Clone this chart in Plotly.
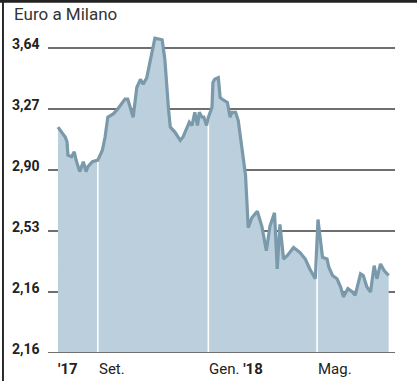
import numpy as np
import pandas as pd
import plotly.graph_objects as go

# Euro price in Milan, July 2017 - July 2018
date = [
    "2017-07-19", "2017-07-27", "2017-07-29", "2017-07-30", "2017-08-03", "2017-08-06",
    "2017-08-08", "2017-08-12", "2017-08-16", "2017-08-19", "2017-08-21", "2017-08-26",
    "2017-09-01", "2017-09-06", "2017-09-09", "2017-09-12", "2017-09-18", "2017-09-23",
    "2017-10-01", "2017-10-04", "2017-10-10", "2017-10-14", "2017-10-18", "2017-10-21",
    "2017-10-25", "2017-10-31", "2017-11-03", "2017-11-11", "2017-11-14", "2017-11-18",
    "2017-11-20", "2017-11-25", "2017-12-01", "2017-12-04", "2017-12-09", "2017-12-11",
    "2017-12-14", "2017-12-17", "2017-12-20", "2017-12-22", "2017-12-25", "2017-12-27",
    "2017-12-30", "2018-01-01", "2018-01-05", "2018-01-06", "2018-01-08", "2018-01-12",
    "2018-01-14", "2018-01-16", "2018-01-22", "2018-01-25", "2018-01-27", "2018-01-31",
    "2018-02-03", "2018-02-07", "2018-02-11", "2018-02-14", "2018-02-18", "2018-02-24",
    "2018-03-01", "2018-03-06", "2018-03-10", "2018-03-15", "2018-03-18", "2018-03-21",
    "2018-03-25", "2018-03-29", "2018-04-05", "2018-04-12", "2018-04-18", "2018-04-23",
    "2018-04-29", "2018-05-02", "2018-05-07", "2018-05-12", "2018-05-14", "2018-05-18",
    "2018-05-23", "2018-05-27", "2018-05-30", "2018-06-04", "2018-06-09", "2018-06-12",
    "2018-06-18", "2018-06-21", "2018-06-25", "2018-06-29", "2018-07-03", "2018-07-06",
    "2018-07-10", "2018-07-14", "2018-07-19",
]
prezzo = [
    3.16, 3.10, 3.07, 2.99, 2.98, 3.01,
    2.96, 2.89, 2.95, 2.89, 2.92, 2.95,
    2.96, 3.02, 3.10, 3.22, 3.24, 3.27,
    3.33, 3.33, 3.22, 3.40, 3.45, 3.42,
    3.46, 3.61, 3.70, 3.69, 3.57, 3.27,
    3.16, 3.13, 3.08, 3.10, 3.17, 3.19,
    3.17, 3.25, 3.17, 3.25, 3.22, 3.22,
    3.17, 3.22, 3.28, 3.43, 3.45, 3.46,
    3.34, 3.33, 3.31, 3.22, 3.25, 3.25,
    3.20, 3.05, 2.87, 2.55, 2.61, 2.65,
    2.56, 2.41, 2.56, 2.64, 2.30, 2.57,
    2.36, 2.38, 2.43, 2.40, 2.36, 2.30,
    2.24, 2.60, 2.37, 2.36, 2.31, 2.26,
    2.24, 2.19, 2.13, 2.18, 2.16, 2.14,
    2.27, 2.26, 2.19, 2.16, 2.32, 2.24,
    2.33, 2.29, 2.26,
]

# y-axis ticks (the bottom label repeats "2,16" as printed)
tick_vals = [1.79, 2.16, 2.53, 2.90, 3.27, 3.64]
tick_text = ["2,16", "2,16", "2,53", "2,90", "3,27", "3,64"]

# month markers along the time axis
mesi = ["2017-09-01", "2018-01-01", "2018-05-01"]
mesi_label = ["Set.", "Gen. <b>'18</b>", "Mag."]
inizio_label = "<b>'17</b>"

FILL = "#bccfdc"
LINE = "#7a99ab"
GRID = "#6f6f6f"
INK = "#222222"
FONT = "Roboto"

x = pd.to_datetime(date)
y_min = tick_vals[0]
x_range = ["2017-07-08", "2018-07-26"]
y_range = [y_min, 3.749]

fig = go.Figure()

# filled area under the price line
fig.add_trace(go.Scatter(
    x=x, y=prezzo, mode="lines", line=dict(width=0, color=FILL),
    fill="tozeroy", fillcolor=FILL, hoverinfo="skip", showlegend=False,
))

# white month separators, from the baseline up to the series
xn = x.values.astype("int64")
for m in mesi:
    t = pd.Timestamp(m)
    top = float(np.interp(t.value, xn, prezzo))
    fig.add_trace(go.Scatter(
        x=[t, t], y=[y_min, top], mode="lines",
        line=dict(color="white", width=1.6), hoverinfo="skip", showlegend=False,
    ))

# price line
fig.add_trace(go.Scatter(
    x=x, y=prezzo, mode="lines",
    line=dict(color=LINE, width=3.2, shape="linear"),
    showlegend=False,
))

annotations = []
# y tick labels
for v, t in zip(tick_vals, tick_text):
    annotations.append(dict(
        x=-0.016, xref="paper", y=v, yref="y", yshift=4,
        text=f"<b>{t}</b>", showarrow=False, xanchor="right", yanchor="middle",
        font=dict(family=FONT, size=14, color=INK),
    ))
# x labels
annotations.append(dict(
    x=date[0], xref="x", y=-0.048, yref="paper", text=inizio_label,
    showarrow=False, xanchor="left", yanchor="middle", xshift=-2,
    font=dict(family=FONT, size=15, color=INK),
))
for m, t in zip(mesi, mesi_label):
    annotations.append(dict(
        x=m, xref="x", y=-0.048, yref="paper", text=t,
        showarrow=False, xanchor="left", yanchor="middle", xshift=-1,
        font=dict(family=FONT, size=15, color=INK),
    ))
# title
annotations.append(dict(
    x=-0.105, xref="paper", y=1.048, yref="paper", text="Euro a Milano",
    showarrow=False, xanchor="left", yanchor="middle",
    font=dict(family=FONT, size=17, color="#333333"),
))

shapes = [
    # frame: top bar and left rule
    dict(type="rect", xref="paper", yref="paper", x0=-0.16, x1=1.07,
         y0=1.084, y1=1.10, fillcolor="#222222", line=dict(width=0)),
    dict(type="rect", xref="paper", yref="paper", x0=-0.1325, x1=-0.127,
         y0=-0.09, y1=1.10, fillcolor="#222222", line=dict(width=0)),
    # baseline
    dict(type="line", xref="paper", yref="y", x0=0, x1=1, y0=y_min, y1=y_min,
         line=dict(color=GRID, width=2)),
]

fig.update_layout(
    width=417, height=381,
    margin=dict(l=48, r=22, t=30, b=28),
    paper_bgcolor="white", plot_bgcolor="white",
    showlegend=False,
    annotations=annotations,
    shapes=shapes,
    xaxis=dict(range=x_range, showgrid=False, showticklabels=False,
               zeroline=False, showline=False, ticks=""),
    yaxis=dict(range=y_range, tickvals=tick_vals[1:], showticklabels=False,
               showgrid=True, gridcolor=GRID, gridwidth=2,
               zeroline=False, showline=False, ticks=""),
)

fig.write_html("out.html")
